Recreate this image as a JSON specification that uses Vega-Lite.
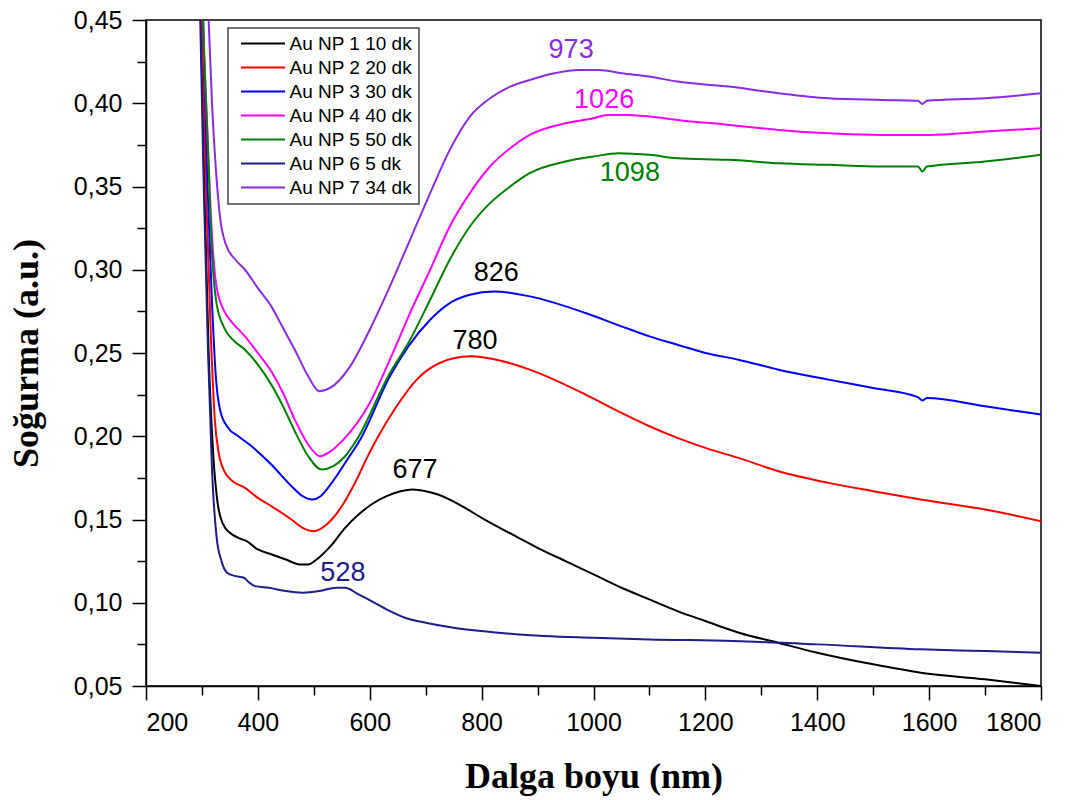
{
  "$schema": "https://vega.github.io/schema/vega-lite/v6.json",
  "autosize": "none",
  "width": 895,
  "height": 666,
  "padding": {"left": 146, "top": 20, "right": 44, "bottom": 114},
  "background": "white",
  "datasets": {
    "spectra": [
      {"s":"Au NP 1 10 dk","x":290,"y":0.62},{"s":"Au NP 1 10 dk","x":298,"y":0.45},{"s":"Au NP 1 10 dk","x":305,"y":0.34},{"s":"Au NP 1 10 dk","x":312,"y":0.25},{"s":"Au NP 1 10 dk","x":320,"y":0.19},{"s":"Au NP 1 10 dk","x":328,"y":0.16},{"s":"Au NP 1 10 dk","x":338,"y":0.147},{"s":"Au NP 1 10 dk","x":350,"y":0.142},{"s":"Au NP 1 10 dk","x":365,"y":0.139},{"s":"Au NP 1 10 dk","x":380,"y":0.137},{"s":"Au NP 1 10 dk","x":400,"y":0.132},{"s":"Au NP 1 10 dk","x":425,"y":0.129},{"s":"Au NP 1 10 dk","x":450,"y":0.126},{"s":"Au NP 1 10 dk","x":475,"y":0.123},{"s":"Au NP 1 10 dk","x":490,"y":0.123},{"s":"Au NP 1 10 dk","x":505,"y":0.126},{"s":"Au NP 1 10 dk","x":530,"y":0.134},{"s":"Au NP 1 10 dk","x":556,"y":0.145},{"s":"Au NP 1 10 dk","x":580,"y":0.153},{"s":"Au NP 1 10 dk","x":603,"y":0.159},{"s":"Au NP 1 10 dk","x":630,"y":0.164},{"s":"Au NP 1 10 dk","x":655,"y":0.167},{"s":"Au NP 1 10 dk","x":677,"y":0.168},{"s":"Au NP 1 10 dk","x":700,"y":0.167},{"s":"Au NP 1 10 dk","x":722,"y":0.165},{"s":"Au NP 1 10 dk","x":760,"y":0.159},{"s":"Au NP 1 10 dk","x":800,"y":0.151},{"s":"Au NP 1 10 dk","x":866,"y":0.139},{"s":"Au NP 1 10 dk","x":900,"y":0.133},{"s":"Au NP 1 10 dk","x":950,"y":0.125},{"s":"Au NP 1 10 dk","x":1000,"y":0.117},{"s":"Au NP 1 10 dk","x":1050,"y":0.109},{"s":"Au NP 1 10 dk","x":1100,"y":0.102},{"s":"Au NP 1 10 dk","x":1150,"y":0.095},{"s":"Au NP 1 10 dk","x":1200,"y":0.089},{"s":"Au NP 1 10 dk","x":1260,"y":0.082},{"s":"Au NP 1 10 dk","x":1330,"y":0.076},{"s":"Au NP 1 10 dk","x":1400,"y":0.07},{"s":"Au NP 1 10 dk","x":1500,"y":0.063},{"s":"Au NP 1 10 dk","x":1585,"y":0.058},{"s":"Au NP 1 10 dk","x":1700,"y":0.054},{"s":"Au NP 1 10 dk","x":1800,"y":0.05},

      {"s":"Au NP 2 20 dk","x":290,"y":0.6},{"s":"Au NP 2 20 dk","x":300,"y":0.45},{"s":"Au NP 2 20 dk","x":308,"y":0.34},{"s":"Au NP 2 20 dk","x":316,"y":0.26},{"s":"Au NP 2 20 dk","x":323,"y":0.21},{"s":"Au NP 2 20 dk","x":330,"y":0.19},{"s":"Au NP 2 20 dk","x":340,"y":0.179},{"s":"Au NP 2 20 dk","x":355,"y":0.173},{"s":"Au NP 2 20 dk","x":377,"y":0.169},{"s":"Au NP 2 20 dk","x":400,"y":0.163},{"s":"Au NP 2 20 dk","x":424,"y":0.158},{"s":"Au NP 2 20 dk","x":460,"y":0.15},{"s":"Au NP 2 20 dk","x":480,"y":0.145},{"s":"Au NP 2 20 dk","x":500,"y":0.143},{"s":"Au NP 2 20 dk","x":515,"y":0.145},{"s":"Au NP 2 20 dk","x":532,"y":0.15},{"s":"Au NP 2 20 dk","x":552,"y":0.159},{"s":"Au NP 2 20 dk","x":575,"y":0.173},{"s":"Au NP 2 20 dk","x":595,"y":0.187},{"s":"Au NP 2 20 dk","x":612,"y":0.198},{"s":"Au NP 2 20 dk","x":648,"y":0.218},{"s":"Au NP 2 20 dk","x":684,"y":0.234},{"s":"Au NP 2 20 dk","x":725,"y":0.244},{"s":"Au NP 2 20 dk","x":779,"y":0.248},{"s":"Au NP 2 20 dk","x":838,"y":0.245},{"s":"Au NP 2 20 dk","x":886,"y":0.24},{"s":"Au NP 2 20 dk","x":986,"y":0.225},{"s":"Au NP 2 20 dk","x":1050,"y":0.214},{"s":"Au NP 2 20 dk","x":1100,"y":0.206},{"s":"Au NP 2 20 dk","x":1150,"y":0.199},{"s":"Au NP 2 20 dk","x":1200,"y":0.193},{"s":"Au NP 2 20 dk","x":1259,"y":0.187},{"s":"Au NP 2 20 dk","x":1331,"y":0.179},{"s":"Au NP 2 20 dk","x":1420,"y":0.172},{"s":"Au NP 2 20 dk","x":1500,"y":0.167},{"s":"Au NP 2 20 dk","x":1585,"y":0.162},{"s":"Au NP 2 20 dk","x":1700,"y":0.156},{"s":"Au NP 2 20 dk","x":1800,"y":0.149},

      {"s":"Au NP 3 30 dk","x":292,"y":0.6},{"s":"Au NP 3 30 dk","x":302,"y":0.45},{"s":"Au NP 3 30 dk","x":310,"y":0.35},{"s":"Au NP 3 30 dk","x":318,"y":0.28},{"s":"Au NP 3 30 dk","x":325,"y":0.235},{"s":"Au NP 3 30 dk","x":333,"y":0.215},{"s":"Au NP 3 30 dk","x":347,"y":0.205},{"s":"Au NP 3 30 dk","x":365,"y":0.2},{"s":"Au NP 3 30 dk","x":385,"y":0.195},{"s":"Au NP 3 30 dk","x":424,"y":0.183},{"s":"Au NP 3 30 dk","x":460,"y":0.17},{"s":"Au NP 3 30 dk","x":480,"y":0.164},{"s":"Au NP 3 30 dk","x":497,"y":0.162},{"s":"Au NP 3 30 dk","x":512,"y":0.164},{"s":"Au NP 3 30 dk","x":532,"y":0.172},{"s":"Au NP 3 30 dk","x":558,"y":0.185},{"s":"Au NP 3 30 dk","x":583,"y":0.198},{"s":"Au NP 3 30 dk","x":636,"y":0.236},{"s":"Au NP 3 30 dk","x":669,"y":0.254},{"s":"Au NP 3 30 dk","x":708,"y":0.27},{"s":"Au NP 3 30 dk","x":743,"y":0.28},{"s":"Au NP 3 30 dk","x":779,"y":0.285},{"s":"Au NP 3 30 dk","x":822,"y":0.287},{"s":"Au NP 3 30 dk","x":886,"y":0.284},{"s":"Au NP 3 30 dk","x":986,"y":0.274},{"s":"Au NP 3 30 dk","x":1050,"y":0.266},{"s":"Au NP 3 30 dk","x":1100,"y":0.26},{"s":"Au NP 3 30 dk","x":1150,"y":0.255},{"s":"Au NP 3 30 dk","x":1200,"y":0.25},{"s":"Au NP 3 30 dk","x":1259,"y":0.246},{"s":"Au NP 3 30 dk","x":1331,"y":0.24},{"s":"Au NP 3 30 dk","x":1420,"y":0.234},{"s":"Au NP 3 30 dk","x":1500,"y":0.229},{"s":"Au NP 3 30 dk","x":1580,"y":0.2235},{"s":"Au NP 3 30 dk","x":1588,"y":0.2215},{"s":"Au NP 3 30 dk","x":1596,"y":0.223},{"s":"Au NP 3 30 dk","x":1700,"y":0.218},{"s":"Au NP 3 30 dk","x":1800,"y":0.213},

      {"s":"Au NP 4 40 dk","x":292,"y":0.6},{"s":"Au NP 4 40 dk","x":302,"y":0.45},{"s":"Au NP 4 40 dk","x":310,"y":0.38},{"s":"Au NP 4 40 dk","x":318,"y":0.32},{"s":"Au NP 4 40 dk","x":326,"y":0.29},{"s":"Au NP 4 40 dk","x":340,"y":0.275},{"s":"Au NP 4 40 dk","x":355,"y":0.268},{"s":"Au NP 4 40 dk","x":377,"y":0.26},{"s":"Au NP 4 40 dk","x":400,"y":0.25},{"s":"Au NP 4 40 dk","x":424,"y":0.239},{"s":"Au NP 4 40 dk","x":445,"y":0.226},{"s":"Au NP 4 40 dk","x":466,"y":0.21},{"s":"Au NP 4 40 dk","x":490,"y":0.195},{"s":"Au NP 4 40 dk","x":511,"y":0.188},{"s":"Au NP 4 40 dk","x":530,"y":0.191},{"s":"Au NP 4 40 dk","x":553,"y":0.198},{"s":"Au NP 4 40 dk","x":600,"y":0.22},{"s":"Au NP 4 40 dk","x":636,"y":0.246},{"s":"Au NP 4 40 dk","x":672,"y":0.274},{"s":"Au NP 4 40 dk","x":708,"y":0.3},{"s":"Au NP 4 40 dk","x":743,"y":0.326},{"s":"Au NP 4 40 dk","x":779,"y":0.346},{"s":"Au NP 4 40 dk","x":815,"y":0.362},{"s":"Au NP 4 40 dk","x":851,"y":0.373},{"s":"Au NP 4 40 dk","x":886,"y":0.381},{"s":"Au NP 4 40 dk","x":950,"y":0.388},{"s":"Au NP 4 40 dk","x":1000,"y":0.391},{"s":"Au NP 4 40 dk","x":1026,"y":0.393},{"s":"Au NP 4 40 dk","x":1060,"y":0.393},{"s":"Au NP 4 40 dk","x":1100,"y":0.392},{"s":"Au NP 4 40 dk","x":1150,"y":0.39},{"s":"Au NP 4 40 dk","x":1242,"y":0.387},{"s":"Au NP 4 40 dk","x":1331,"y":0.384},{"s":"Au NP 4 40 dk","x":1420,"y":0.382},{"s":"Au NP 4 40 dk","x":1516,"y":0.381},{"s":"Au NP 4 40 dk","x":1600,"y":0.381},{"s":"Au NP 4 40 dk","x":1700,"y":0.383},{"s":"Au NP 4 40 dk","x":1800,"y":0.385},

      {"s":"Au NP 5 50 dk","x":292,"y":0.6},{"s":"Au NP 5 50 dk","x":302,"y":0.45},{"s":"Au NP 5 50 dk","x":310,"y":0.38},{"s":"Au NP 5 50 dk","x":318,"y":0.31},{"s":"Au NP 5 50 dk","x":326,"y":0.28},{"s":"Au NP 5 50 dk","x":340,"y":0.265},{"s":"Au NP 5 50 dk","x":355,"y":0.258},{"s":"Au NP 5 50 dk","x":377,"y":0.252},{"s":"Au NP 5 50 dk","x":400,"y":0.243},{"s":"Au NP 5 50 dk","x":424,"y":0.231},{"s":"Au NP 5 50 dk","x":445,"y":0.218},{"s":"Au NP 5 50 dk","x":466,"y":0.203},{"s":"Au NP 5 50 dk","x":490,"y":0.188},{"s":"Au NP 5 50 dk","x":514,"y":0.18},{"s":"Au NP 5 50 dk","x":535,"y":0.182},{"s":"Au NP 5 50 dk","x":556,"y":0.188},{"s":"Au NP 5 50 dk","x":577,"y":0.198},{"s":"Au NP 5 50 dk","x":636,"y":0.238},{"s":"Au NP 5 50 dk","x":669,"y":0.256},{"s":"Au NP 5 50 dk","x":708,"y":0.282},{"s":"Au NP 5 50 dk","x":743,"y":0.306},{"s":"Au NP 5 50 dk","x":779,"y":0.326},{"s":"Au NP 5 50 dk","x":815,"y":0.34},{"s":"Au NP 5 50 dk","x":851,"y":0.35},{"s":"Au NP 5 50 dk","x":886,"y":0.358},{"s":"Au NP 5 50 dk","x":950,"y":0.365},{"s":"Au NP 5 50 dk","x":1000,"y":0.368},{"s":"Au NP 5 50 dk","x":1045,"y":0.37},{"s":"Au NP 5 50 dk","x":1100,"y":0.369},{"s":"Au NP 5 50 dk","x":1150,"y":0.367},{"s":"Au NP 5 50 dk","x":1242,"y":0.366},{"s":"Au NP 5 50 dk","x":1331,"y":0.364},{"s":"Au NP 5 50 dk","x":1420,"y":0.363},{"s":"Au NP 5 50 dk","x":1516,"y":0.362},{"s":"Au NP 5 50 dk","x":1580,"y":0.362},{"s":"Au NP 5 50 dk","x":1588,"y":0.359},{"s":"Au NP 5 50 dk","x":1596,"y":0.362},{"s":"Au NP 5 50 dk","x":1700,"y":0.365},{"s":"Au NP 5 50 dk","x":1800,"y":0.369},

      {"s":"Au NP 6 5 dk","x":290,"y":0.62},{"s":"Au NP 6 5 dk","x":297,"y":0.45},{"s":"Au NP 6 5 dk","x":304,"y":0.34},{"s":"Au NP 6 5 dk","x":311,"y":0.25},{"s":"Au NP 6 5 dk","x":318,"y":0.18},{"s":"Au NP 6 5 dk","x":326,"y":0.14},{"s":"Au NP 6 5 dk","x":335,"y":0.125},{"s":"Au NP 6 5 dk","x":345,"y":0.118},{"s":"Au NP 6 5 dk","x":360,"y":0.116},{"s":"Au NP 6 5 dk","x":375,"y":0.115},{"s":"Au NP 6 5 dk","x":385,"y":0.112},{"s":"Au NP 6 5 dk","x":395,"y":0.11},{"s":"Au NP 6 5 dk","x":420,"y":0.109},{"s":"Au NP 6 5 dk","x":450,"y":0.107},{"s":"Au NP 6 5 dk","x":480,"y":0.106},{"s":"Au NP 6 5 dk","x":510,"y":0.107},{"s":"Au NP 6 5 dk","x":540,"y":0.109},{"s":"Au NP 6 5 dk","x":556,"y":0.109},{"s":"Au NP 6 5 dk","x":580,"y":0.105},{"s":"Au NP 6 5 dk","x":603,"y":0.101},{"s":"Au NP 6 5 dk","x":630,"y":0.096},{"s":"Au NP 6 5 dk","x":663,"y":0.091},{"s":"Au NP 6 5 dk","x":700,"y":0.088},{"s":"Au NP 6 5 dk","x":750,"y":0.085},{"s":"Au NP 6 5 dk","x":800,"y":0.083},{"s":"Au NP 6 5 dk","x":866,"y":0.081},{"s":"Au NP 6 5 dk","x":1000,"y":0.079},{"s":"Au NP 6 5 dk","x":1100,"y":0.078},{"s":"Au NP 6 5 dk","x":1250,"y":0.077},{"s":"Au NP 6 5 dk","x":1400,"y":0.075},{"s":"Au NP 6 5 dk","x":1585,"y":0.072},{"s":"Au NP 6 5 dk","x":1700,"y":0.071},{"s":"Au NP 6 5 dk","x":1800,"y":0.07},

      {"s":"Au NP 7 34 dk","x":300,"y":0.62},{"s":"Au NP 7 34 dk","x":312,"y":0.45},{"s":"Au NP 7 34 dk","x":318,"y":0.4},{"s":"Au NP 7 34 dk","x":325,"y":0.36},{"s":"Au NP 7 34 dk","x":333,"y":0.33},{"s":"Au NP 7 34 dk","x":343,"y":0.315},{"s":"Au NP 7 34 dk","x":360,"y":0.306},{"s":"Au NP 7 34 dk","x":377,"y":0.3},{"s":"Au NP 7 34 dk","x":400,"y":0.289},{"s":"Au NP 7 34 dk","x":424,"y":0.278},{"s":"Au NP 7 34 dk","x":445,"y":0.265},{"s":"Au NP 7 34 dk","x":466,"y":0.252},{"s":"Au NP 7 34 dk","x":490,"y":0.236},{"s":"Au NP 7 34 dk","x":510,"y":0.227},{"s":"Au NP 7 34 dk","x":529,"y":0.229},{"s":"Au NP 7 34 dk","x":565,"y":0.242},{"s":"Au NP 7 34 dk","x":600,"y":0.264},{"s":"Au NP 7 34 dk","x":636,"y":0.29},{"s":"Au NP 7 34 dk","x":672,"y":0.318},{"s":"Au NP 7 34 dk","x":708,"y":0.346},{"s":"Au NP 7 34 dk","x":743,"y":0.372},{"s":"Au NP 7 34 dk","x":779,"y":0.392},{"s":"Au NP 7 34 dk","x":815,"y":0.403},{"s":"Au NP 7 34 dk","x":851,"y":0.41},{"s":"Au NP 7 34 dk","x":886,"y":0.414},{"s":"Au NP 7 34 dk","x":930,"y":0.418},{"s":"Au NP 7 34 dk","x":973,"y":0.42},{"s":"Au NP 7 34 dk","x":1010,"y":0.42},{"s":"Au NP 7 34 dk","x":1050,"y":0.418},{"s":"Au NP 7 34 dk","x":1100,"y":0.416},{"s":"Au NP 7 34 dk","x":1150,"y":0.413},{"s":"Au NP 7 34 dk","x":1242,"y":0.41},{"s":"Au NP 7 34 dk","x":1331,"y":0.406},{"s":"Au NP 7 34 dk","x":1420,"y":0.403},{"s":"Au NP 7 34 dk","x":1516,"y":0.402},{"s":"Au NP 7 34 dk","x":1580,"y":0.4015},{"s":"Au NP 7 34 dk","x":1588,"y":0.3995},{"s":"Au NP 7 34 dk","x":1596,"y":0.4015},{"s":"Au NP 7 34 dk","x":1700,"y":0.403},{"s":"Au NP 7 34 dk","x":1800,"y":0.406}
    ],
    "peaks": [
      {"label":"973","x":960,"y":0.432},
      {"label":"1026","x":1019,"y":0.402},
      {"label":"1098","x":1065,"y":0.358},
      {"label":"826","x":826,"y":0.298},
      {"label":"780","x":788,"y":0.257},
      {"label":"677","x":681,"y":0.18},
      {"label":"528","x":552,"y":0.118}
    ]
  },
  "layer": [
    {
      "data": {"name": "spectra"},
      "mark": {"type": "line", "strokeWidth": 2, "clip": true, "interpolate": "monotone"},
      "encoding": {
        "x": {
          "field": "x", "type": "quantitative",
          "scale": {"domain": [200, 1800], "nice": false, "zero": false},
          "axis": {
            "orient": "bottom",
            "values": [200, 400, 600, 800, 1000, 1200, 1400, 1600, 1800],
            "format": "d",
            "tickSize": 14, "labelPadding": 10,
            "title": "Dalga boyu (nm)",
            "titleFont": "Liberation Serif", "titleFontWeight": "bold", "titleFontSize": 36,
            "titleColor": "#000", "titleBaseline": "alphabetic", "titleY": 101
          }
        },
        "y": {
          "field": "y", "type": "quantitative",
          "scale": {"domain": [0.05, 0.45], "nice": false, "zero": false},
          "axis": {
            "orient": "left",
            "values": [0.05, 0.1, 0.15, 0.2, 0.25, 0.3, 0.35, 0.4, 0.45],
            "labelExpr": "replace(format(datum.value, '.2f'), '.', ',')",
            "tickSize": 14, "labelPadding": 10,
            "title": "Soğurma (a.u.)",
            "titleFont": "Liberation Serif", "titleFontWeight": "bold", "titleFontSize": 36,
            "titleColor": "#000", "titleBaseline": "alphabetic", "titleAngle": -90,
            "titleX": -109, "titleY": 333, "titleAlign": "center"
          }
        },
        "color": {
          "field": "s", "type": "nominal",
          "scale": {
            "domain": ["Au NP 1 10 dk", "Au NP 2 20 dk", "Au NP 3 30 dk", "Au NP 4 40 dk", "Au NP 5 50 dk", "Au NP 6 5 dk", "Au NP 7 34 dk"],
            "range": ["#000000", "#FF0000", "#0000FF", "#FF00FF", "#008000", "#1C1C8C", "#8B2BE2"]
          },
          "legend": {
            "orient": "none", "legendX": 82, "legendY": 8,
            "title": null,
            "symbolType": "M-4,0H4", "symbolSize": 121, "symbolStrokeWidth": 2,
            "symbolOffset": 19.5, "labelOffset": 17,
            "labelFont": "Liberation Sans", "labelFontSize": 19, "labelColor": "#000",
            "padding": 6, "rowPadding": 4,
            "strokeColor": "#444", "fillColor": "#ffffff"
          }
        }
      }
    },
    {
      "data": {"name": "peaks"},
      "mark": {"type": "text", "font": "Liberation Sans", "fontSize": 27, "align": "center", "baseline": "middle"},
      "encoding": {
        "x": {
          "field": "x", "type": "quantitative",
          "scale": {"domain": [200, 1800], "nice": false, "zero": false},
          "axis": {"orient": "bottom", "values": [300, 500, 700, 900, 1100, 1300, 1500, 1700], "labels": false, "domain": false, "tickSize": 9, "title": null}
        },
        "y": {
          "field": "y", "type": "quantitative",
          "scale": {"domain": [0.05, 0.45], "nice": false, "zero": false},
          "axis": {"orient": "left", "values": [0.075, 0.125, 0.175, 0.225, 0.275, 0.325, 0.375, 0.425], "labels": false, "domain": false, "tickSize": 9, "title": null}
        },
        "text": {"field": "label"},
        "color": {
          "field": "label", "type": "nominal",
          "scale": {
            "domain": ["973", "1026", "1098", "826", "780", "677", "528"],
            "range": ["#8B2BE2", "#FF00FF", "#008000", "#000000", "#000000", "#000000", "#1C1C8C"]
          },
          "legend": null
        }
      }
    }
  ],
  "resolve": {
    "scale": {"color": "independent"},
    "axis": {"x": "independent", "y": "independent"}
  },
  "config": {
    "view": {"stroke": "#000", "strokeWidth": 1.5},
    "axis": {
      "domainColor": "#000", "domainWidth": 1.5,
      "tickColor": "#000", "tickWidth": 1.5,
      "labelColor": "#000", "labelFont": "Liberation Sans", "labelFontSize": 25,
      "grid": false
    },
    "legend": {"strokeWidth": 1.5}
  }
}
